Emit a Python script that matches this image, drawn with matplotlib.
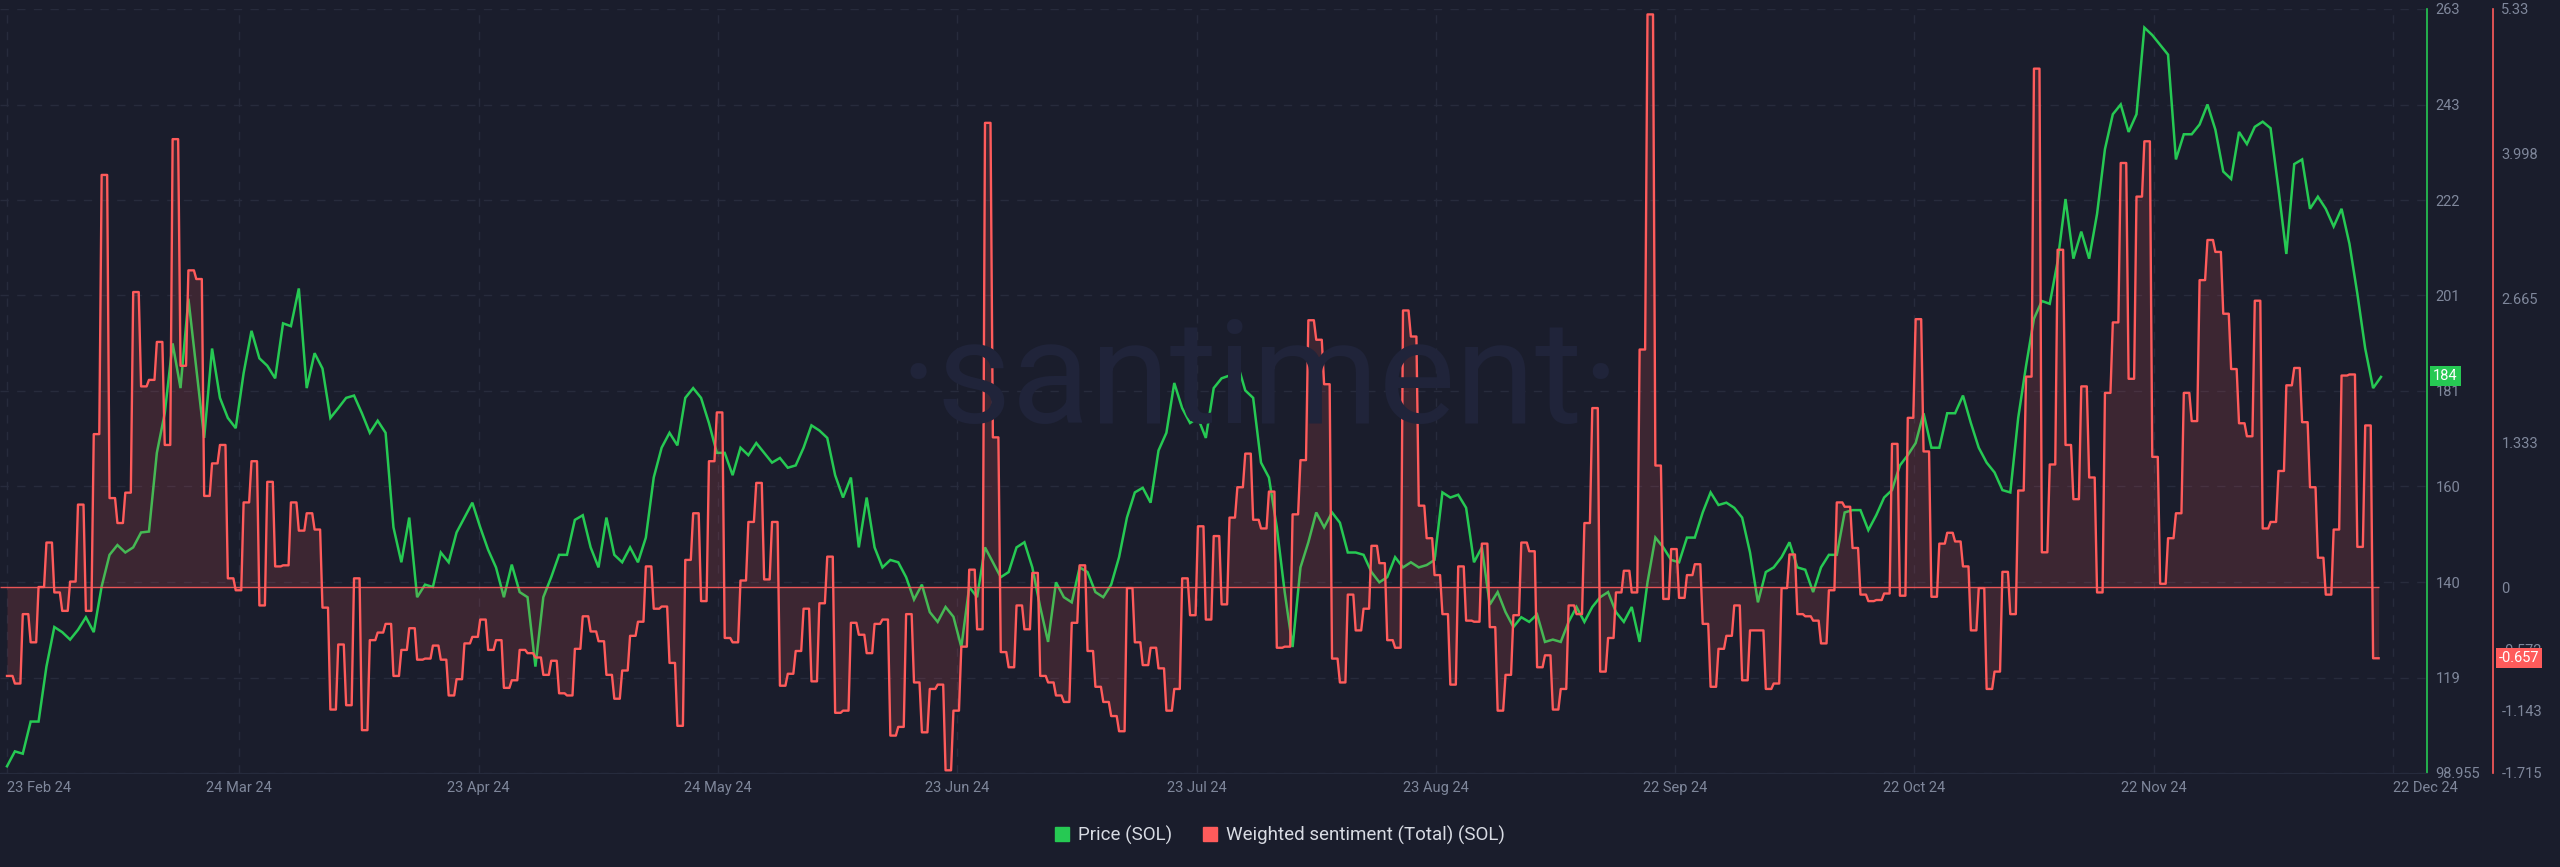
import numpy as np
import matplotlib.pyplot as plt
from matplotlib.patches import Patch

# daily SOL price, 23 Feb 24 onwards
price = [
    100.4, 103.6, 103.1, 110.0, 110.0, 121.8, 130.3, 129.2, 127.6, 129.7,
    132.4, 129.2, 139.0, 145.8, 147.9, 146.3, 147.4, 150.6, 150.8, 167.7,
    176.2, 191.2, 181.6, 200.8, 185.8, 170.9, 190.1, 179.5, 175.2, 173.0,
    184.8, 193.9, 188.0, 186.4, 183.7, 195.5, 194.9, 203.0, 181.6, 189.1,
    185.8, 175.2, 177.3, 179.5, 180.0, 176.2, 172.0, 174.6, 172.0, 151.7,
    144.2, 153.8, 136.7, 139.4, 138.9, 146.3, 144.2, 150.6, 153.8, 157.0,
    151.7, 146.9, 143.1, 136.7, 143.7, 137.8, 136.7, 121.8, 136.7, 141.0,
    145.8, 145.8, 153.3, 154.3, 147.4, 143.1, 153.8, 145.8, 144.2, 147.4,
    144.2, 149.5, 162.4, 168.8, 172.0, 169.3, 179.5, 181.6, 179.5, 174.1,
    167.7, 167.7, 162.9, 168.8, 167.2, 169.8, 167.7, 165.6, 166.6, 164.5,
    165.0, 168.8, 173.6, 172.5, 170.9, 162.9, 158.1, 162.4, 147.4, 158.1,
    147.4, 143.1, 144.7, 144.2, 141.0, 136.2, 139.4, 133.5, 131.4, 134.6,
    132.5, 126.0, 138.9, 136.7, 147.4, 144.2, 141.0, 142.1, 147.4, 148.5,
    143.1, 134.6, 127.1, 139.9, 136.7, 135.6, 143.1, 142.1, 137.8, 136.7,
    139.4, 145.3, 153.8, 159.2, 160.2, 157.0, 168.2, 172.0, 182.7, 177.3,
    174.1, 175.2, 170.9, 181.6, 183.7, 184.3, 186.9, 181.1, 179.5, 165.6,
    162.4, 151.7, 137.8, 126.0, 143.1, 148.5, 154.9, 151.7, 154.9, 152.7,
    146.3, 146.3, 145.8, 142.1, 139.9, 141.0, 145.3, 143.1, 144.2, 143.1,
    143.6, 144.7, 159.2, 158.1, 158.7, 155.9, 144.2, 147.4, 135.1, 137.8,
    133.5, 130.3, 132.4, 131.4, 133.0, 127.1, 127.6, 127.1, 131.4, 134.6,
    131.4, 134.6, 136.7, 137.8, 133.5, 131.4, 134.6, 127.1, 139.9, 149.5,
    147.4, 144.7, 144.2, 149.5, 149.5, 154.9, 159.2, 156.5, 157.0, 155.9,
    153.8, 146.3, 135.6, 142.1, 143.1, 145.3, 148.5, 143.1, 142.6, 137.8,
    143.1, 145.8, 145.8, 154.9, 155.4, 155.4, 151.1, 154.3, 158.1, 159.7,
    165.0, 167.2, 169.8, 176.2, 168.8, 168.8, 176.2, 176.2, 180.0, 174.1,
    168.8, 165.6, 163.5, 159.7, 159.2, 175.2, 186.4, 196.5, 200.3, 199.7,
    208.8, 222.2, 209.4, 215.2, 209.4, 219.0, 232.9, 240.4, 242.5, 236.6,
    240.4, 259.0, 257.4, 255.3, 253.2, 230.7, 236.1, 236.1, 238.2, 242.5,
    237.1, 228.1, 226.5, 236.6, 234.0, 237.7, 238.8, 237.4, 224.4, 210.4,
    229.7, 230.7, 220.1, 222.7, 220.1, 216.3, 220.1, 212.6, 201.9, 190.1,
    181.6, 184.0,
]

# daily weighted sentiment (total)
sentiment = [
    -0.82, -0.89, -0.25, -0.51, 0.00, 0.41, -0.05, -0.22, 0.05, 0.76,
    -0.22, 1.41, 3.80, 0.82, 0.59, 0.87, 2.72, 1.85, 1.91, 2.26,
    1.31, 4.13, 2.04, 2.92, 2.84, 0.84, 1.14, 1.31, 0.08, -0.03,
    0.78, 1.16, -0.17, 0.97, 0.19, 0.20, 0.78, 0.52, 0.68, 0.53,
    -0.19, -1.13, -0.53, -1.09, 0.08, -1.32, -0.49, -0.42, -0.34, -0.82,
    -0.58, -0.38, -0.67, -0.66, -0.54, -0.67, -1.00, -0.85, -0.52, -0.46,
    -0.30, -0.58, -0.49, -0.93, -0.86, -0.58, -0.61, -0.65, -0.81, -0.68,
    -0.98, -1.00, -0.57, -0.27, -0.41, -0.50, -0.81, -1.03, -0.77, -0.45,
    -0.32, 0.19, -0.20, -0.18, -0.70, -1.28, 0.25, 0.68, -0.13, 1.16,
    1.61, -0.47, -0.51, 0.06, 0.60, 0.96, 0.07, 0.60, -0.91, -0.80,
    -0.59, -0.20, -0.87, -0.15, 0.28, -1.16, -1.14, -0.33, -0.44, -0.61,
    -0.34, -0.30, -1.37, -1.29, -0.25, -0.88, -1.34, -0.94, -0.90, -1.69,
    -1.14, -0.55, 0.16, -0.39, 4.28, 1.38, -0.60, -0.74, -0.17, -0.39,
    0.13, -0.82, -0.88, -1.00, -1.06, -0.33, 0.20, -0.59, -0.92, -1.06,
    -1.19, -1.33, -0.01, -0.51, -0.72, -0.56, -0.75, -1.14, -0.94, 0.08,
    -0.26, 0.56, -0.30, 0.47, -0.16, 0.64, 0.92, 1.23, 0.62, 0.54,
    0.88, -0.56, -0.55, 0.67, 1.17, 2.46, 2.28, 1.87, -0.66, -0.88,
    -0.07, -0.40, -0.20, 0.38, 0.22, -0.49, -0.56, 2.55, 2.31, 0.75,
    0.45, 0.11, -0.25, -0.90, 0.19, -0.31, -0.32, 0.40, -0.37, -1.14,
    -0.81, -0.26, 0.41, 0.33, -0.74, -0.63, -1.13, -0.94, -0.17, -0.25,
    0.59, 1.65, -0.78, -0.47, -0.05, 0.15, -0.05, 2.19, 5.28, 1.12,
    -0.11, 0.35, -0.10, 0.11, 0.21, -0.34, -0.92, -0.57, -0.45, -0.17,
    -0.86, -0.40, -0.40, -0.94, -0.89, -0.01, 0.30, -0.25, -0.27, -0.31,
    -0.52, -0.03, 0.78, 0.74, 0.36, -0.07, -0.13, -0.12, -0.06, 1.32,
    -0.08, 1.56, 2.47, 1.25, -0.09, 0.40, 0.50, 0.42, 0.19, -0.40,
    -0.01, -0.94, -0.78, 0.14, -0.25, 0.89, 1.94, 4.78, 0.32, 1.13,
    3.11, 1.31, 0.81, 1.85, 1.01, -0.05, 1.79, 2.44, 3.91, 1.92,
    3.60, 4.11, 1.20, 0.03, 0.45, 0.68, 1.79, 1.53, 2.83, 3.20,
    3.09, 2.52, 2.01, 1.51, 1.39, 2.64, 0.54, 0.60, 1.07, 1.86,
    2.02, 1.52, 0.92, 0.27, -0.07, 0.53, 1.95, 1.96, 0.37, 1.49,
    -0.657,
]

date_labels = ['23 Feb 24', '24 Mar 24', '23 Apr 24', '24 May 24', '23 Jun 24', '23 Jul 24',
               '23 Aug 24', '22 Sep 24', '22 Oct 24', '22 Nov 24', '22 Dec 24']
price_ticks = ['98.955', '119', '140', '160', '181', '201', '222', '243', '263']
sent_ticks = [-1.715, -1.143, -0.572, 0, 1.333, 2.665, 3.998, 5.33]

BG = '#1a1d2c'
GREEN = '#26c953'
RED = '#ff5b5b'
GRID = '#272b3c'
TXT = '#7f879b'

plt.rcParams['font.family'] = ['Roboto', 'DejaVu Sans']

W, H = 2560, 867
px_day = 7.887          # pixels per day
x0 = 7                  # pixel of day 0
ax_right = 2427
fig = plt.figure(figsize=(W / 100, H / 100), dpi=100, facecolor=BG)
ax = fig.add_axes([0, 1 - 773 / H, ax_right / W, (773 - 9) / H])
ax.set_facecolor(BG)
ax2 = ax.twinx()

xmin = -x0 / px_day
xmax = (ax_right - x0) / px_day

# price
pdays = np.arange(len(price))
ax.plot(pdays, price, color=GREEN, lw=1.8, zorder=3, solid_joinstyle='miter')
ax.set_ylim(98.955, 263)
ax.set_xlim(xmin, xmax)

# sentiment: each day held flat for most of the day
sdays = np.arange(len(sentiment))
sx = np.repeat(sdays, 2) + np.tile([0.0, 0.7], len(sentiment))
sy = np.repeat(sentiment, 2)
ax2.fill_between(sx, sy, 0, color=RED, alpha=0.15, lw=0)
ax2.plot(sx, sy, color=RED, lw=1.7, zorder=4)
ax2.hlines(0, xmin, sx[-1], color=RED, lw=1.0, alpha=0.9)
ax2.set_ylim(-1.715, 5.33)
ax2.set_xlim(xmin, xmax)

# grid
pt = np.linspace(98.955, 263, len(price_ticks))
ax.set_yticks(pt)
ax.set_yticklabels(price_ticks)
tick_step = 239.3 / px_day
xt = xmin + np.arange(len(date_labels)) * tick_step
xt[0] = 0
ax.set_xticks(xt)
ax.set_xticklabels(date_labels)
ax.grid(True, color=GRID, linestyle=(0, (6, 6)), lw=1)
ax.set_axisbelow(True)

for a in (ax, ax2):
    for s in ['top', 'left']:
        a.spines[s].set_visible(False)
ax2.spines['bottom'].set_visible(False)
ax.spines['bottom'].set_color('#262b3d')
ax.spines['right'].set_color(GREEN)
ax.spines['right'].set_linewidth(1.2)
ax2.spines['right'].set_color(RED)
ax2.spines['right'].set_linewidth(1.2)
ax2.spines['right'].set_position(('axes', 2493 / ax_right))

ax.yaxis.tick_right()
ax.tick_params(axis='y', length=0, pad=6, labelsize=10.5, labelcolor=TXT)
ax.tick_params(axis='x', length=0, pad=6, labelsize=10.5, labelcolor=TXT)
xl = ax.get_xticklabels()
xl[0].set_ha('left')
xl[-1].set_ha('left')

ax2.set_yticks(sent_ticks)
ax2.set_yticklabels([f'{v:g}' for v in sent_ticks])
ax2.tick_params(axis='y', length=0, pad=6, labelsize=10.5, labelcolor=TXT)

# last value badges
ax.annotate(f'{price[-1]:.0f}', xy=(1, price[-1]), xycoords=('axes fraction', 'data'),
            xytext=(6, 1), textcoords='offset pixels', ha='left', va='center',
            color='white', fontsize=10.5,
            bbox=dict(boxstyle='square,pad=0.2', fc=GREEN, ec='none'), zorder=10)
ax2.annotate(f'{sentiment[-1]:.3f}', xy=(2493 / ax_right, sentiment[-1]),
             xycoords=('axes fraction', 'data'), xytext=(6, 0), textcoords='offset pixels',
             ha='left', va='center', color='white', fontsize=10.5,
             bbox=dict(boxstyle='square,pad=0.2', fc=RED, ec='none'), zorder=10,
             annotation_clip=False)

# watermark
fig.text(1260 / W, 1 - 423 / H, '·santiment·', ha='center', va='baseline',
         fontsize=104, color='#20243a', fontweight='normal', zorder=0)

# legend
handles = [Patch(color=GREEN, label='Price (SOL)'),
           Patch(color=RED, label='Weighted sentiment (Total) (SOL)')]
leg = fig.legend(handles=handles, loc='center', bbox_to_anchor=(0.5, 1 - 835 / H),
                 ncol=2, frameon=False, fontsize=13.5, handlelength=0.75,
                 handleheight=0.75, handletextpad=0.5, columnspacing=1.6)
for t in leg.get_texts():
    t.set_color('#d8dbe3')

fig.savefig('out.png', dpi=100, facecolor=BG)
